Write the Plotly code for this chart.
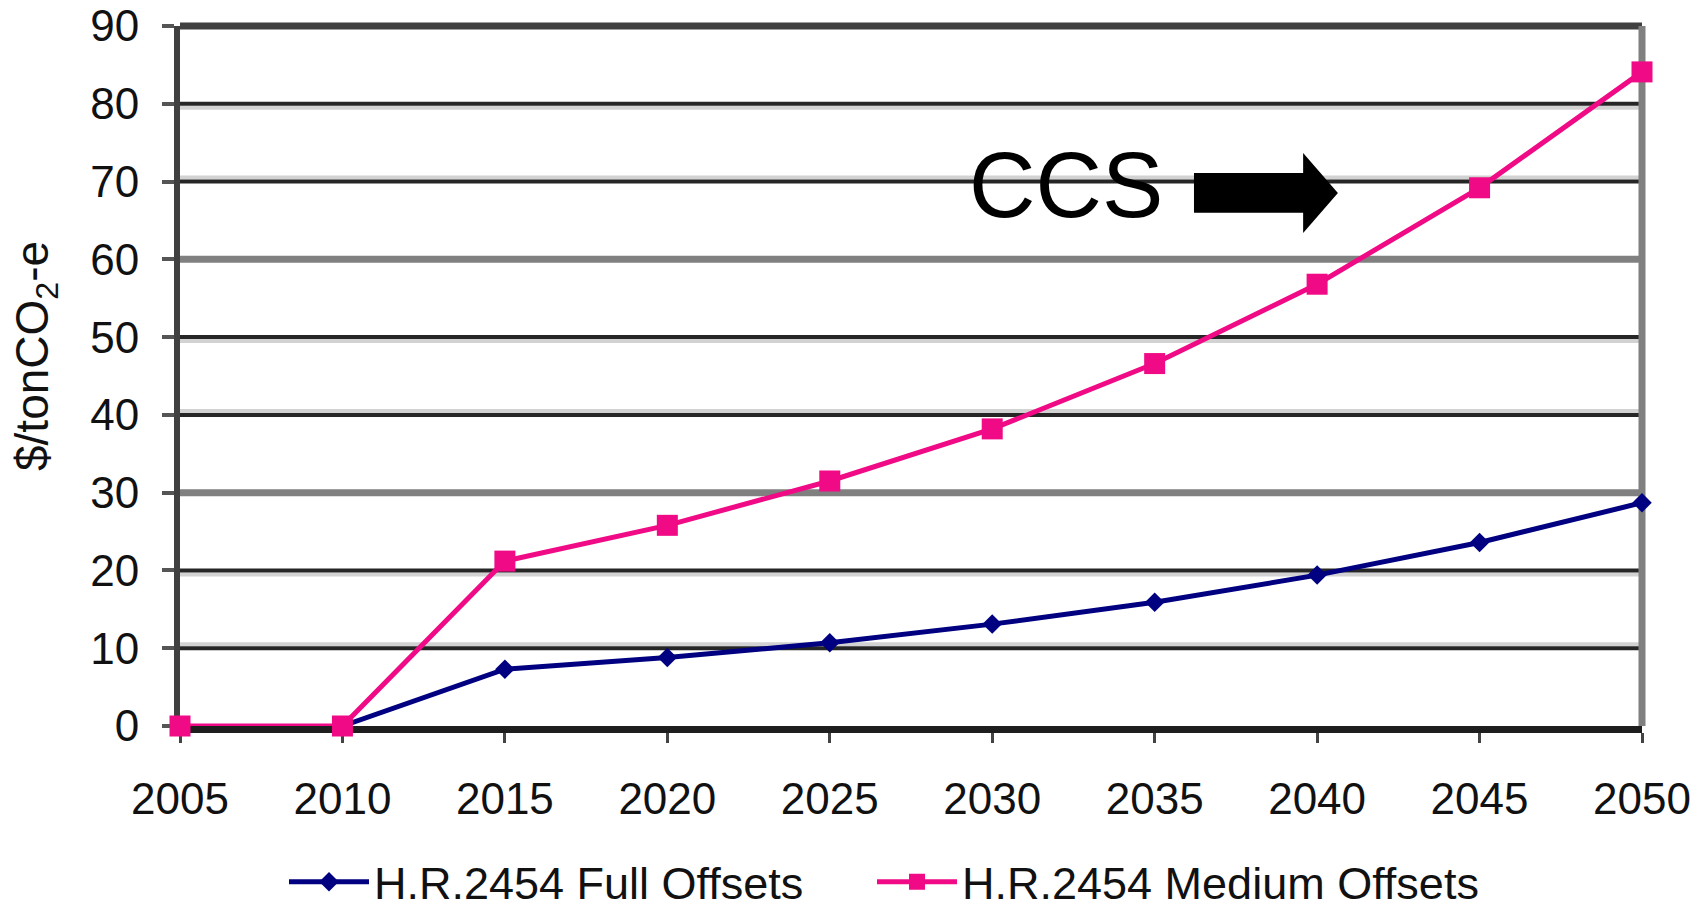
import plotly.graph_objects as go

years = [2005, 2010, 2015, 2020, 2025, 2030, 2035, 2040, 2045, 2050]
full_offsets = [0, 0, 7.3, 8.8, 10.7, 13.1, 15.9, 19.4, 23.6, 28.7]
medium_offsets = [0, 0, 21.2, 25.8, 31.5, 38.2, 46.6, 56.8, 69.2, 84.1]
y_ticks = [0, 10, 20, 30, 40, 50, 60, 70, 80, 90]
series_names = ["H.R.2454 Full Offsets", "H.R.2454 Medium Offsets"]
y_title = "$/tonCO<sub>2</sub>-e"

NAVY = "#000080"
PINK = "#F00A85"
FONT = "Liberation Sans, Arial, sans-serif"

# figure geometry (page body has an 8px margin, so the figure is 8px smaller)
W, H = 1694, 895
ML, MT, PW, PH = 172, 18, 1462, 700
Y_MAX = 90
px = Y_MAX / PH  # data units per pixel

fig = go.Figure()
fig.add_trace(go.Scatter(
    x=years[1:], y=full_offsets[1:], name=series_names[0], mode="lines+markers",
    line=dict(color=NAVY, width=5),
    marker=dict(symbol="diamond", size=15, color=NAVY),
    cliponaxis=False, legend="legend",
))
fig.add_trace(go.Scatter(
    x=years, y=medium_offsets, name=series_names[1], mode="lines+markers",
    line=dict(color=PINK, width=5),
    marker=dict(symbol="square", size=21, color=PINK),
    cliponaxis=False, legend="legend2",
))

# gridlines styled like the (rescaled) original: dark line + light companion, grey at 30/60
grid_style = {10: "above", 20: "below", 30: "grey", 40: "above", 50: "below",
              60: "grey", 70: "above", 80: "below"}
for v in y_ticks:
    s = grid_style.get(v)
    if s is None:
        continue
    if s == "grey":
        fig.add_shape(type="line", xref="paper", yref="y", x0=0, x1=1, y0=v, y1=v,
                      line=dict(color="#808080", width=7), layer="below")
    else:
        off = 4 * px if s == "above" else -4 * px
        fig.add_shape(type="line", xref="paper", yref="y", x0=0, x1=1, y0=v + off, y1=v + off,
                      line=dict(color="#d2d2d2", width=4), layer="below")
        fig.add_shape(type="line", xref="paper", yref="y", x0=0, x1=1, y0=v, y1=v,
                      line=dict(color="#262626", width=4), layer="below")

# top frame line (at 90) and right border
fig.add_shape(type="line", xref="paper", yref="paper", x0=0, x1=1, y0=1, y1=1,
              line=dict(color="#404040", width=7), layer="below")
fig.add_shape(type="line", xref="paper", yref="paper", x0=1, x1=1, y0=0, y1=1,
              line=dict(color="#808080", width=7), layer="below")

# CCS label and block arrow
fig.add_annotation(x=2032.27, y=69.5, xref="x", yref="y", text="CCS", showarrow=False,
                   font=dict(family=FONT, size=92, color="#000000"))
fig.add_shape(type="path", xref="x", yref="y",
              path="M 2036.21 66.0 L 2039.57 66.0 L 2039.57 63.4 L 2040.64 68.53 "
                   "L 2039.57 73.67 L 2039.57 71.1 L 2036.21 71.1 Z",
              fillcolor="#000000", line=dict(width=0))

# y-axis title
fig.add_annotation(xref="paper", yref="paper", x=(27 - ML) / PW, y=(MT + PH - 348) / PH,
                   text=y_title, textangle=-90, showarrow=False,
                   xanchor="center", yanchor="middle",
                   font=dict(size=46, family=FONT, color="#111111"))

legend_common = dict(orientation="h", xref="container", xanchor="left",
                     yref="container", y=(H - 874) / H, yanchor="middle",
                     font=dict(family=FONT, size=45, color="#111111"),
                     itemwidth=80, tracegroupgap=0, bgcolor="rgba(0,0,0,0)")

fig.update_layout(
    width=W, height=H,
    margin=dict(l=ML, r=W - ML - PW, t=MT, b=H - MT - PH, autoexpand=False),
    paper_bgcolor="white", plot_bgcolor="white",
    font=dict(family=FONT, color="#111111"),
    showlegend=True,
    legend=dict(x=276 / W, **legend_common),
    legend2=dict(x=864 / W, **legend_common),
    xaxis=dict(
        range=[2005, 2050], tickmode="array", tickvals=years,
        ticktext=[str(y) for y in years],
        tickfont=dict(size=44, family=FONT, color="#111111"),
        showgrid=False, zeroline=False,
        showline=True, linecolor="#1e1e1e", linewidth=7, layer="below traces",
        ticks="outside", ticklen=10, tickwidth=3, tickcolor="#444444",
        ticklabelstandoff=18, ticklabeloverflow="allow",
    ),
    yaxis=dict(
        range=[0, Y_MAX], tickmode="array", tickvals=y_ticks,
        tickfont=dict(size=44, family=FONT, color="#111111"),
        showgrid=False, zeroline=False,
        showline=True, linecolor="#404040", linewidth=6, layer="below traces",
        ticks="outside", ticklen=12, tickwidth=4, tickcolor="#555555",
        ticklabelstandoff=14, ticklabeloverflow="allow",
    ),
)

fig.write_html("out.html")
